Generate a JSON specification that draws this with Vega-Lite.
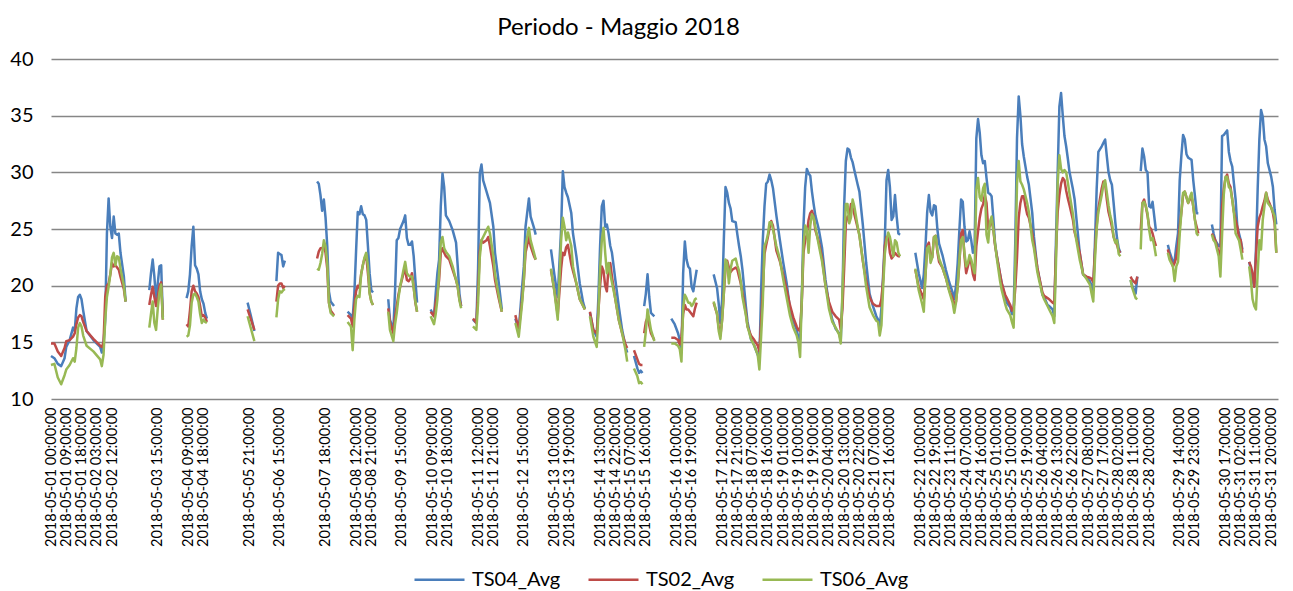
{
"$schema":"https://vega.github.io/schema/vega-lite/v6.json",
"width":1227,"height":340,
"autosize":{"type":"none"},
"padding":{"left":51,"top":59,"right":15,"bottom":192},
"background":"white",
"title":{"text":"Periodo - Maggio 2018","fontSize":24,"font":"Lato","fontWeight":"normal","color":"black","dx":-46,"offset":9},
"config":{"view":{"stroke":null},"font":"Lato"},
"data":{"values":[
{"r":0,"s":1,"TS04_Avg":13.8,"TS02_Avg":14.9,"TS06_Avg":13.0},
{"r":2,"s":1,"TS04_Avg":13.6,"TS02_Avg":14.9,"TS06_Avg":13.1},
{"r":4,"s":1,"TS04_Avg":13.1,"TS02_Avg":14.2,"TS06_Avg":11.9},
{"r":6,"s":1,"TS04_Avg":12.9,"TS02_Avg":13.8,"TS06_Avg":11.3},
{"r":8,"s":1,"TS04_Avg":13.6,"TS02_Avg":14.5,"TS06_Avg":12.1},
{"r":9,"s":1,"TS04_Avg":14.6,"TS02_Avg":15.1,"TS06_Avg":12.6},
{"r":11,"s":1,"TS04_Avg":15.2,"TS02_Avg":15.2,"TS06_Avg":13.0},
{"r":13,"s":1,"TS04_Avg":16.3,"TS02_Avg":15.5,"TS06_Avg":13.6},
{"r":14,"s":1,"TS04_Avg":16.0,"TS02_Avg":15.8,"TS06_Avg":13.3},
{"r":15,"s":1,"TS04_Avg":18.0,"TS02_Avg":16.6,"TS06_Avg":14.5},
{"r":16,"s":1,"TS04_Avg":19.0,"TS02_Avg":17.2,"TS06_Avg":16.3},
{"r":17,"s":1,"TS04_Avg":19.2,"TS02_Avg":17.4,"TS06_Avg":16.7},
{"r":18,"s":1,"TS04_Avg":18.8,"TS02_Avg":17.3,"TS06_Avg":16.4},
{"r":19,"s":1,"TS04_Avg":17.8,"TS02_Avg":16.8,"TS06_Avg":15.6},
{"r":21,"s":1,"TS04_Avg":16.0,"TS02_Avg":16.0,"TS06_Avg":14.7},
{"r":25,"s":1,"TS04_Avg":15.2,"TS02_Avg":15.3,"TS06_Avg":14.2},
{"r":29,"s":1,"TS04_Avg":14.6,"TS02_Avg":14.7,"TS06_Avg":13.5},
{"r":30,"s":1,"TS04_Avg":14.1,"TS02_Avg":14.6,"TS06_Avg":12.9},
{"r":31,"s":1,"TS04_Avg":14.9,"TS02_Avg":15.0,"TS06_Avg":13.9},
{"r":32,"s":1,"TS04_Avg":17.0,"TS02_Avg":19.0,"TS06_Avg":17.0},
{"r":33,"s":1,"TS04_Avg":24.6,"TS02_Avg":20.0,"TS06_Avg":19.0},
{"r":34,"s":1,"TS04_Avg":27.7,"TS02_Avg":20.2,"TS06_Avg":19.9},
{"r":35,"s":1,"TS04_Avg":25.2,"TS02_Avg":21.0,"TS06_Avg":21.0},
{"r":36,"s":1,"TS04_Avg":24.2,"TS02_Avg":22.0,"TS06_Avg":22.5},
{"r":37,"s":1,"TS04_Avg":26.1,"TS02_Avg":21.7,"TS06_Avg":22.9},
{"r":38,"s":1,"TS04_Avg":24.6,"TS02_Avg":21.8,"TS06_Avg":21.8},
{"r":39,"s":1,"TS04_Avg":24.5,"TS02_Avg":21.6,"TS06_Avg":22.6},
{"r":40,"s":1,"TS04_Avg":24.6,"TS02_Avg":21.4,"TS06_Avg":22.5},
{"r":41,"s":1,"TS04_Avg":22.9,"TS02_Avg":20.8,"TS06_Avg":21.5},
{"r":43,"s":1,"TS04_Avg":20.8,"TS02_Avg":19.7,"TS06_Avg":20.0},
{"r":44,"s":1,"TS04_Avg":18.6,"TS02_Avg":18.6,"TS06_Avg":18.6},
{"r":58,"s":2,"TS04_Avg":19.6,"TS02_Avg":18.3,"TS06_Avg":16.3},
{"r":59,"s":2,"TS04_Avg":21.1,"TS02_Avg":19.2,"TS06_Avg":17.5},
{"r":60,"s":2,"TS04_Avg":22.3,"TS02_Avg":19.9,"TS06_Avg":18.6},
{"r":61,"s":2,"TS04_Avg":20.8,"TS02_Avg":19.0,"TS06_Avg":16.7},
{"r":62,"s":2,"TS04_Avg":18.8,"TS02_Avg":18.2,"TS06_Avg":16.1},
{"r":63,"s":2,"TS04_Avg":20.2,"TS02_Avg":19.0,"TS06_Avg":18.0},
{"r":64,"s":2,"TS04_Avg":21.7,"TS02_Avg":20.0,"TS06_Avg":19.4},
{"r":65,"s":2,"TS04_Avg":21.8,"TS02_Avg":20.3,"TS06_Avg":20.1},
{"r":66,"s":2,"TS04_Avg":17.2,"TS02_Avg":17.0,"TS06_Avg":17.0},
{"r":80,"s":3,"TS04_Avg":18.9,"TS02_Avg":16.6,"TS06_Avg":15.5},
{"r":81,"s":3,"TS04_Avg":19.5,"TS02_Avg":16.4,"TS06_Avg":15.6},
{"r":82,"s":3,"TS04_Avg":21.0,"TS02_Avg":17.8,"TS06_Avg":16.5},
{"r":83,"s":3,"TS04_Avg":23.5,"TS02_Avg":19.5,"TS06_Avg":18.5},
{"r":84,"s":3,"TS04_Avg":25.2,"TS02_Avg":20.0,"TS06_Avg":19.2},
{"r":85,"s":3,"TS04_Avg":21.8,"TS02_Avg":19.5,"TS06_Avg":19.3},
{"r":86,"s":3,"TS04_Avg":21.5,"TS02_Avg":19.3,"TS06_Avg":19.0},
{"r":87,"s":3,"TS04_Avg":21.0,"TS02_Avg":19.0,"TS06_Avg":18.6},
{"r":88,"s":3,"TS04_Avg":19.5,"TS02_Avg":18.2,"TS06_Avg":17.5},
{"r":89,"s":3,"TS04_Avg":18.8,"TS02_Avg":17.3,"TS06_Avg":16.7},
{"r":90,"s":3,"TS04_Avg":18.4,"TS02_Avg":17.4,"TS06_Avg":17.0},
{"r":91,"s":3,"TS04_Avg":17.6,"TS02_Avg":17.2,"TS06_Avg":16.8},
{"r":92,"s":3,"TS04_Avg":17.1,"TS02_Avg":16.8,"TS06_Avg":16.7},
{"r":116,"s":4,"TS04_Avg":18.5,"TS02_Avg":17.9,"TS06_Avg":17.3},
{"r":118,"s":4,"TS04_Avg":17.3,"TS02_Avg":17.0,"TS06_Avg":16.2},
{"r":120,"s":4,"TS04_Avg":16.0,"TS02_Avg":16.1,"TS06_Avg":15.1},
{"r":133,"s":5,"TS04_Avg":20.4,"TS02_Avg":18.6,"TS06_Avg":17.2},
{"r":134,"s":5,"TS04_Avg":22.9,"TS02_Avg":20.0,"TS06_Avg":18.8},
{"r":135,"s":5,"TS04_Avg":22.8,"TS02_Avg":20.2,"TS06_Avg":19.5},
{"r":136,"s":5,"TS04_Avg":22.7,"TS02_Avg":20.2,"TS06_Avg":19.4},
{"r":137,"s":5,"TS04_Avg":21.7,"TS02_Avg":19.8,"TS06_Avg":19.6},
{"r":138,"s":5,"TS04_Avg":22.2,"TS02_Avg":20.0,"TS06_Avg":19.7},
{"r":157,"s":6,"TS04_Avg":29.2,"TS02_Avg":22.4,"TS06_Avg":21.5},
{"r":158,"s":6,"TS04_Avg":29.0,"TS02_Avg":23.0,"TS06_Avg":21.4},
{"r":159,"s":6,"TS04_Avg":28.0,"TS02_Avg":23.3,"TS06_Avg":22.0},
{"r":160,"s":6,"TS04_Avg":26.6,"TS02_Avg":23.3,"TS06_Avg":22.8},
{"r":161,"s":6,"TS04_Avg":27.6,"TS02_Avg":23.5,"TS06_Avg":24.0},
{"r":162,"s":6,"TS04_Avg":26.0,"TS02_Avg":22.9,"TS06_Avg":23.5},
{"r":163,"s":6,"TS04_Avg":23.5,"TS02_Avg":21.5,"TS06_Avg":22.0},
{"r":164,"s":6,"TS04_Avg":19.5,"TS02_Avg":18.5,"TS06_Avg":18.5},
{"r":165,"s":6,"TS04_Avg":18.6,"TS02_Avg":17.8,"TS06_Avg":17.6},
{"r":167,"s":6,"TS04_Avg":18.2,"TS02_Avg":17.4,"TS06_Avg":17.3},
{"r":175,"s":7,"TS04_Avg":17.7,"TS02_Avg":17.4,"TS06_Avg":16.8},
{"r":177,"s":7,"TS04_Avg":17.4,"TS02_Avg":17.1,"TS06_Avg":16.4},
{"r":178,"s":7,"TS04_Avg":17.1,"TS02_Avg":16.4,"TS06_Avg":14.3},
{"r":179,"s":7,"TS04_Avg":19.3,"TS02_Avg":18.2,"TS06_Avg":17.0},
{"r":180,"s":7,"TS04_Avg":23.0,"TS02_Avg":19.5,"TS06_Avg":18.8},
{"r":181,"s":7,"TS04_Avg":26.5,"TS02_Avg":20.0,"TS06_Avg":19.1},
{"r":182,"s":7,"TS04_Avg":26.3,"TS02_Avg":19.8,"TS06_Avg":19.0},
{"r":183,"s":7,"TS04_Avg":27.0,"TS02_Avg":21.0,"TS06_Avg":21.0},
{"r":184,"s":7,"TS04_Avg":26.3,"TS02_Avg":21.8,"TS06_Avg":21.8},
{"r":185,"s":7,"TS04_Avg":26.2,"TS02_Avg":22.4,"TS06_Avg":22.5},
{"r":186,"s":7,"TS04_Avg":25.8,"TS02_Avg":22.7,"TS06_Avg":22.9},
{"r":187,"s":7,"TS04_Avg":23.5,"TS02_Avg":21.1,"TS06_Avg":21.7},
{"r":188,"s":7,"TS04_Avg":21.1,"TS02_Avg":19.4,"TS06_Avg":19.3},
{"r":189,"s":7,"TS04_Avg":19.6,"TS02_Avg":18.6,"TS06_Avg":18.6},
{"r":190,"s":7,"TS04_Avg":19.4,"TS02_Avg":18.3,"TS06_Avg":18.3},
{"r":199,"s":8,"TS04_Avg":18.8,"TS02_Avg":18.0,"TS06_Avg":17.7},
{"r":200,"s":8,"TS04_Avg":17.0,"TS02_Avg":16.8,"TS06_Avg":16.1},
{"r":202,"s":8,"TS04_Avg":16.1,"TS02_Avg":15.8,"TS06_Avg":15.1},
{"r":203,"s":8,"TS04_Avg":19.5,"TS02_Avg":17.2,"TS06_Avg":16.6},
{"r":204,"s":8,"TS04_Avg":24.0,"TS02_Avg":18.2,"TS06_Avg":17.6},
{"r":205,"s":8,"TS04_Avg":24.2,"TS02_Avg":19.2,"TS06_Avg":18.9},
{"r":206,"s":8,"TS04_Avg":25.0,"TS02_Avg":19.9,"TS06_Avg":19.9},
{"r":208,"s":8,"TS04_Avg":25.7,"TS02_Avg":21.1,"TS06_Avg":21.4},
{"r":209,"s":8,"TS04_Avg":26.2,"TS02_Avg":21.4,"TS06_Avg":22.1},
{"r":210,"s":8,"TS04_Avg":24.2,"TS02_Avg":20.5,"TS06_Avg":21.1},
{"r":211,"s":8,"TS04_Avg":23.6,"TS02_Avg":20.4,"TS06_Avg":20.9},
{"r":212,"s":8,"TS04_Avg":23.6,"TS02_Avg":20.6,"TS06_Avg":20.8},
{"r":213,"s":8,"TS04_Avg":23.9,"TS02_Avg":21.1,"TS06_Avg":20.8},
{"r":214,"s":8,"TS04_Avg":22.6,"TS02_Avg":19.9,"TS06_Avg":19.8},
{"r":215,"s":8,"TS04_Avg":20.5,"TS02_Avg":18.5,"TS06_Avg":18.6},
{"r":216,"s":8,"TS04_Avg":18.5,"TS02_Avg":17.7,"TS06_Avg":17.7},
{"r":224,"s":9,"TS04_Avg":17.9,"TS02_Avg":17.7,"TS06_Avg":17.3},
{"r":226,"s":9,"TS04_Avg":17.3,"TS02_Avg":17.3,"TS06_Avg":16.6},
{"r":227,"s":9,"TS04_Avg":19.3,"TS02_Avg":18.5,"TS06_Avg":17.5},
{"r":228,"s":9,"TS04_Avg":21.1,"TS02_Avg":19.3,"TS06_Avg":18.8},
{"r":229,"s":9,"TS04_Avg":22.3,"TS02_Avg":20.5,"TS06_Avg":21.1},
{"r":230,"s":9,"TS04_Avg":27.0,"TS02_Avg":22.9,"TS06_Avg":23.8},
{"r":231,"s":9,"TS04_Avg":29.9,"TS02_Avg":23.3,"TS06_Avg":24.3},
{"r":232,"s":9,"TS04_Avg":28.7,"TS02_Avg":22.9,"TS06_Avg":23.3},
{"r":233,"s":9,"TS04_Avg":26.2,"TS02_Avg":22.6,"TS06_Avg":23.0},
{"r":235,"s":9,"TS04_Avg":25.7,"TS02_Avg":22.3,"TS06_Avg":22.6},
{"r":237,"s":9,"TS04_Avg":24.9,"TS02_Avg":21.4,"TS06_Avg":21.7},
{"r":239,"s":9,"TS04_Avg":23.8,"TS02_Avg":20.5,"TS06_Avg":20.5},
{"r":240,"s":9,"TS04_Avg":21.7,"TS02_Avg":19.9,"TS06_Avg":19.9},
{"r":241,"s":9,"TS04_Avg":19.3,"TS02_Avg":18.8,"TS06_Avg":18.7},
{"r":242,"s":9,"TS04_Avg":18.2,"TS02_Avg":18.2,"TS06_Avg":18.0},
{"r":249,"s":10,"TS04_Avg":17.0,"TS02_Avg":17.1,"TS06_Avg":16.4},
{"r":251,"s":10,"TS04_Avg":16.7,"TS02_Avg":16.7,"TS06_Avg":16.1},
{"r":252,"s":10,"TS04_Avg":21.5,"TS02_Avg":19.5,"TS06_Avg":18.5},
{"r":253,"s":10,"TS04_Avg":29.9,"TS02_Avg":23.0,"TS06_Avg":22.5},
{"r":254,"s":10,"TS04_Avg":30.7,"TS02_Avg":24.0,"TS06_Avg":24.0},
{"r":255,"s":10,"TS04_Avg":29.3,"TS02_Avg":23.8,"TS06_Avg":24.3},
{"r":257,"s":10,"TS04_Avg":28.3,"TS02_Avg":24.0,"TS06_Avg":24.9},
{"r":258,"s":10,"TS04_Avg":27.8,"TS02_Avg":24.3,"TS06_Avg":25.2},
{"r":259,"s":10,"TS04_Avg":27.3,"TS02_Avg":23.5,"TS06_Avg":24.6},
{"r":261,"s":10,"TS04_Avg":25.2,"TS02_Avg":21.7,"TS06_Avg":22.6},
{"r":262,"s":10,"TS04_Avg":22.9,"TS02_Avg":20.5,"TS06_Avg":21.0},
{"r":264,"s":10,"TS04_Avg":20.5,"TS02_Avg":19.0,"TS06_Avg":19.3},
{"r":266,"s":10,"TS04_Avg":17.9,"TS02_Avg":17.7,"TS06_Avg":17.7},
{"r":274,"s":11,"TS04_Avg":17.1,"TS02_Avg":17.4,"TS06_Avg":16.7},
{"r":276,"s":11,"TS04_Avg":16.1,"TS02_Avg":16.1,"TS06_Avg":15.5},
{"r":278,"s":11,"TS04_Avg":19.9,"TS02_Avg":18.8,"TS06_Avg":18.5},
{"r":279,"s":11,"TS04_Avg":21.7,"TS02_Avg":20.5,"TS06_Avg":20.5},
{"r":280,"s":11,"TS04_Avg":25.2,"TS02_Avg":22.9,"TS06_Avg":23.5},
{"r":282,"s":11,"TS04_Avg":27.7,"TS02_Avg":24.3,"TS06_Avg":25.1},
{"r":283,"s":11,"TS04_Avg":26.1,"TS02_Avg":23.5,"TS06_Avg":24.0},
{"r":285,"s":11,"TS04_Avg":25.1,"TS02_Avg":22.6,"TS06_Avg":22.9},
{"r":286,"s":11,"TS04_Avg":24.5,"TS02_Avg":22.3,"TS06_Avg":22.3},
{"r":295,"s":12,"TS04_Avg":23.2,"TS02_Avg":21.4,"TS06_Avg":21.5},
{"r":297,"s":12,"TS04_Avg":21.0,"TS02_Avg":19.6,"TS06_Avg":19.5},
{"r":299,"s":12,"TS04_Avg":19.0,"TS02_Avg":17.4,"TS06_Avg":17.0},
{"r":301,"s":12,"TS04_Avg":25.0,"TS02_Avg":21.5,"TS06_Avg":24.0},
{"r":302,"s":12,"TS04_Avg":30.1,"TS02_Avg":22.9,"TS06_Avg":26.0},
{"r":303,"s":12,"TS04_Avg":28.7,"TS02_Avg":22.7,"TS06_Avg":25.2},
{"r":304,"s":12,"TS04_Avg":28.2,"TS02_Avg":23.4,"TS06_Avg":24.0},
{"r":305,"s":12,"TS04_Avg":27.8,"TS02_Avg":23.6,"TS06_Avg":24.7},
{"r":307,"s":12,"TS04_Avg":26.4,"TS02_Avg":21.9,"TS06_Avg":23.5},
{"r":308,"s":12,"TS04_Avg":24.6,"TS02_Avg":21.3,"TS06_Avg":21.7},
{"r":310,"s":12,"TS04_Avg":22.6,"TS02_Avg":20.2,"TS06_Avg":20.2},
{"r":312,"s":12,"TS04_Avg":20.2,"TS02_Avg":18.8,"TS06_Avg":18.8},
{"r":314,"s":12,"TS04_Avg":18.5,"TS02_Avg":18.2,"TS06_Avg":18.2},
{"r":315,"s":12,"TS04_Avg":18.0,"TS02_Avg":17.9,"TS06_Avg":17.9},
{"r":318,"s":13,"TS04_Avg":17.6,"TS02_Avg":17.7,"TS06_Avg":17.3},
{"r":320,"s":13,"TS04_Avg":16.1,"TS02_Avg":16.1,"TS06_Avg":15.5},
{"r":322,"s":13,"TS04_Avg":15.5,"TS02_Avg":15.8,"TS06_Avg":14.6},
{"r":323,"s":13,"TS04_Avg":19.0,"TS02_Avg":17.8,"TS06_Avg":17.5},
{"r":324,"s":13,"TS04_Avg":23.5,"TS02_Avg":20.0,"TS06_Avg":21.5},
{"r":325,"s":13,"TS04_Avg":27.0,"TS02_Avg":21.7,"TS06_Avg":24.0},
{"r":326,"s":13,"TS04_Avg":27.5,"TS02_Avg":21.3,"TS06_Avg":25.1},
{"r":327,"s":13,"TS04_Avg":25.2,"TS02_Avg":20.0,"TS06_Avg":22.9},
{"r":328,"s":13,"TS04_Avg":25.4,"TS02_Avg":19.5,"TS06_Avg":21.1},
{"r":329,"s":13,"TS04_Avg":24.6,"TS02_Avg":21.7,"TS06_Avg":22.0},
{"r":330,"s":13,"TS04_Avg":23.5,"TS02_Avg":22.0,"TS06_Avg":21.0},
{"r":331,"s":13,"TS04_Avg":22.9,"TS02_Avg":20.8,"TS06_Avg":20.3},
{"r":333,"s":13,"TS04_Avg":20.5,"TS02_Avg":18.8,"TS06_Avg":18.8},
{"r":335,"s":13,"TS04_Avg":18.2,"TS02_Avg":17.0,"TS06_Avg":17.0},
{"r":337,"s":13,"TS04_Avg":16.1,"TS02_Avg":15.8,"TS06_Avg":15.8},
{"r":339,"s":13,"TS04_Avg":14.6,"TS02_Avg":14.8,"TS06_Avg":14.3},
{"r":340,"s":13,"TS04_Avg":14.1,"TS02_Avg":14.5,"TS06_Avg":13.3},
{"r":344,"s":14,"TS04_Avg":13.8,"TS02_Avg":14.3,"TS06_Avg":12.7},
{"r":346,"s":14,"TS04_Avg":12.7,"TS02_Avg":13.5,"TS06_Avg":12.0},
{"r":347,"s":14,"TS04_Avg":12.3,"TS02_Avg":13.1,"TS06_Avg":11.4},
{"r":348,"s":14,"TS04_Avg":12.5,"TS02_Avg":13.0,"TS06_Avg":11.5},
{"r":349,"s":14,"TS04_Avg":12.3,"TS02_Avg":13.0,"TS06_Avg":11.3},
{"r":350,"s":15,"TS04_Avg":18.2,"TS02_Avg":15.8,"TS06_Avg":14.6},
{"r":351,"s":15,"TS04_Avg":19.3,"TS02_Avg":16.8,"TS06_Avg":16.0},
{"r":352,"s":15,"TS04_Avg":21.0,"TS02_Avg":17.2,"TS06_Avg":17.9},
{"r":353,"s":15,"TS04_Avg":19.0,"TS02_Avg":16.5,"TS06_Avg":17.0},
{"r":354,"s":15,"TS04_Avg":17.6,"TS02_Avg":15.8,"TS06_Avg":16.1},
{"r":356,"s":15,"TS04_Avg":17.3,"TS02_Avg":15.2,"TS06_Avg":15.1},
{"r":366,"s":16,"TS04_Avg":17.1,"TS02_Avg":15.4,"TS06_Avg":14.9},
{"r":368,"s":16,"TS04_Avg":16.6,"TS02_Avg":15.4,"TS06_Avg":14.9},
{"r":370,"s":16,"TS04_Avg":15.8,"TS02_Avg":15.2,"TS06_Avg":14.7},
{"r":371,"s":16,"TS04_Avg":15.2,"TS02_Avg":14.8,"TS06_Avg":14.4},
{"r":372,"s":16,"TS04_Avg":14.1,"TS02_Avg":15.5,"TS06_Avg":13.3},
{"r":373,"s":16,"TS04_Avg":21.1,"TS02_Avg":17.5,"TS06_Avg":18.0},
{"r":374,"s":16,"TS04_Avg":23.9,"TS02_Avg":18.3,"TS06_Avg":19.2},
{"r":375,"s":16,"TS04_Avg":22.3,"TS02_Avg":17.9,"TS06_Avg":18.9},
{"r":376,"s":16,"TS04_Avg":21.7,"TS02_Avg":17.9,"TS06_Avg":18.5},
{"r":377,"s":16,"TS04_Avg":21.5,"TS02_Avg":17.7,"TS06_Avg":18.5},
{"r":378,"s":16,"TS04_Avg":19.9,"TS02_Avg":17.5,"TS06_Avg":18.2},
{"r":379,"s":16,"TS04_Avg":19.5,"TS02_Avg":17.3,"TS06_Avg":18.4},
{"r":380,"s":16,"TS04_Avg":20.5,"TS02_Avg":18.0,"TS06_Avg":18.8},
{"r":381,"s":16,"TS04_Avg":21.4,"TS02_Avg":18.5,"TS06_Avg":18.9},
{"r":391,"s":17,"TS04_Avg":21.0,"TS02_Avg":18.5,"TS06_Avg":18.6},
{"r":393,"s":17,"TS04_Avg":19.8,"TS02_Avg":17.5,"TS06_Avg":17.5},
{"r":394,"s":17,"TS04_Avg":18.4,"TS02_Avg":16.3,"TS06_Avg":16.0},
{"r":395,"s":17,"TS04_Avg":16.7,"TS02_Avg":15.6,"TS06_Avg":15.3},
{"r":396,"s":17,"TS04_Avg":18.8,"TS02_Avg":17.0,"TS06_Avg":17.0},
{"r":397,"s":17,"TS04_Avg":24.0,"TS02_Avg":19.3,"TS06_Avg":19.3},
{"r":398,"s":17,"TS04_Avg":28.7,"TS02_Avg":21.5,"TS06_Avg":22.3},
{"r":399,"s":17,"TS04_Avg":28.2,"TS02_Avg":22.2,"TS06_Avg":22.0},
{"r":400,"s":17,"TS04_Avg":27.3,"TS02_Avg":21.6,"TS06_Avg":20.2},
{"r":401,"s":17,"TS04_Avg":26.8,"TS02_Avg":21.2,"TS06_Avg":21.5},
{"r":402,"s":17,"TS04_Avg":25.7,"TS02_Avg":21.4,"TS06_Avg":22.2},
{"r":404,"s":17,"TS04_Avg":25.6,"TS02_Avg":21.6,"TS06_Avg":22.4},
{"r":405,"s":17,"TS04_Avg":24.5,"TS02_Avg":21.4,"TS06_Avg":21.8},
{"r":406,"s":17,"TS04_Avg":23.5,"TS02_Avg":20.8,"TS06_Avg":21.3},
{"r":407,"s":17,"TS04_Avg":22.6,"TS02_Avg":20.2,"TS06_Avg":20.4},
{"r":408,"s":17,"TS04_Avg":21.4,"TS02_Avg":19.4,"TS06_Avg":19.0},
{"r":410,"s":17,"TS04_Avg":18.2,"TS02_Avg":17.6,"TS06_Avg":17.4},
{"r":411,"s":17,"TS04_Avg":16.8,"TS02_Avg":16.4,"TS06_Avg":16.4},
{"r":413,"s":17,"TS04_Avg":15.3,"TS02_Avg":15.6,"TS06_Avg":15.3},
{"r":415,"s":17,"TS04_Avg":14.7,"TS02_Avg":15.2,"TS06_Avg":14.7},
{"r":417,"s":17,"TS04_Avg":13.9,"TS02_Avg":14.7,"TS06_Avg":13.9},
{"r":418,"s":17,"TS04_Avg":13.5,"TS02_Avg":14.2,"TS06_Avg":12.6},
{"r":419,"s":17,"TS04_Avg":19.5,"TS02_Avg":16.8,"TS06_Avg":15.5},
{"r":420,"s":17,"TS04_Avg":24.0,"TS02_Avg":19.5,"TS06_Avg":18.5},
{"r":421,"s":17,"TS04_Avg":27.0,"TS02_Avg":22.8,"TS06_Avg":23.5},
{"r":422,"s":17,"TS04_Avg":29.0,"TS02_Avg":23.6,"TS06_Avg":23.9},
{"r":423,"s":17,"TS04_Avg":29.2,"TS02_Avg":24.3,"TS06_Avg":24.5},
{"r":424,"s":17,"TS04_Avg":29.8,"TS02_Avg":25.1,"TS06_Avg":25.6},
{"r":425,"s":17,"TS04_Avg":29.3,"TS02_Avg":25.7,"TS06_Avg":25.6},
{"r":426,"s":17,"TS04_Avg":28.6,"TS02_Avg":25.3,"TS06_Avg":25.0},
{"r":428,"s":17,"TS04_Avg":26.2,"TS02_Avg":23.1,"TS06_Avg":23.5},
{"r":430,"s":17,"TS04_Avg":24.1,"TS02_Avg":22.2,"TS06_Avg":22.4},
{"r":432,"s":17,"TS04_Avg":22.1,"TS02_Avg":21.0,"TS06_Avg":20.6},
{"r":434,"s":17,"TS04_Avg":20.3,"TS02_Avg":19.7,"TS06_Avg":19.0},
{"r":436,"s":17,"TS04_Avg":18.0,"TS02_Avg":18.3,"TS06_Avg":17.4},
{"r":438,"s":17,"TS04_Avg":16.9,"TS02_Avg":17.2,"TS06_Avg":16.3},
{"r":440,"s":17,"TS04_Avg":16.1,"TS02_Avg":16.4,"TS06_Avg":15.6},
{"r":441,"s":17,"TS04_Avg":15.4,"TS02_Avg":16.1,"TS06_Avg":15.0},
{"r":442,"s":17,"TS04_Avg":15.2,"TS02_Avg":16.0,"TS06_Avg":13.7},
{"r":443,"s":17,"TS04_Avg":18.8,"TS02_Avg":18.5,"TS06_Avg":18.8},
{"r":444,"s":17,"TS04_Avg":25.2,"TS02_Avg":22.9,"TS06_Avg":23.5},
{"r":445,"s":17,"TS04_Avg":28.7,"TS02_Avg":24.0,"TS06_Avg":25.3},
{"r":446,"s":17,"TS04_Avg":30.3,"TS02_Avg":24.5,"TS06_Avg":25.0},
{"r":447,"s":17,"TS04_Avg":29.9,"TS02_Avg":25.8,"TS06_Avg":22.9},
{"r":448,"s":17,"TS04_Avg":29.7,"TS02_Avg":26.4,"TS06_Avg":25.3},
{"r":449,"s":17,"TS04_Avg":28.3,"TS02_Avg":26.6,"TS06_Avg":26.3},
{"r":450,"s":17,"TS04_Avg":27.2,"TS02_Avg":26.1,"TS06_Avg":26.0},
{"r":451,"s":17,"TS04_Avg":26.2,"TS02_Avg":24.9,"TS06_Avg":25.2},
{"r":453,"s":17,"TS04_Avg":25.0,"TS02_Avg":23.9,"TS06_Avg":23.6},
{"r":455,"s":17,"TS04_Avg":23.3,"TS02_Avg":22.4,"TS06_Avg":22.1},
{"r":457,"s":17,"TS04_Avg":20.5,"TS02_Avg":20.0,"TS06_Avg":20.0},
{"r":459,"s":17,"TS04_Avg":18.4,"TS02_Avg":18.6,"TS06_Avg":18.0},
{"r":461,"s":17,"TS04_Avg":17.0,"TS02_Avg":17.7,"TS06_Avg":16.8},
{"r":463,"s":17,"TS04_Avg":16.2,"TS02_Avg":17.3,"TS06_Avg":16.3},
{"r":465,"s":17,"TS04_Avg":15.8,"TS02_Avg":17.0,"TS06_Avg":15.7},
{"r":466,"s":17,"TS04_Avg":15.2,"TS02_Avg":16.1,"TS06_Avg":14.9},
{"r":467,"s":17,"TS04_Avg":19.0,"TS02_Avg":18.0,"TS06_Avg":19.5},
{"r":468,"s":17,"TS04_Avg":27.0,"TS02_Avg":21.5,"TS06_Avg":23.5},
{"r":469,"s":17,"TS04_Avg":31.0,"TS02_Avg":25.5,"TS06_Avg":27.2},
{"r":470,"s":17,"TS04_Avg":32.1,"TS02_Avg":26.1,"TS06_Avg":27.2},
{"r":471,"s":17,"TS04_Avg":32.0,"TS02_Avg":26.0,"TS06_Avg":25.5},
{"r":472,"s":17,"TS04_Avg":31.3,"TS02_Avg":27.2,"TS06_Avg":26.0},
{"r":473,"s":17,"TS04_Avg":30.9,"TS02_Avg":27.2,"TS06_Avg":27.6},
{"r":474,"s":17,"TS04_Avg":30.2,"TS02_Avg":26.3,"TS06_Avg":27.0},
{"r":476,"s":17,"TS04_Avg":28.9,"TS02_Avg":25.1,"TS06_Avg":25.2},
{"r":477,"s":17,"TS04_Avg":28.3,"TS02_Avg":24.5,"TS06_Avg":24.4},
{"r":479,"s":17,"TS04_Avg":25.4,"TS02_Avg":22.2,"TS06_Avg":22.3},
{"r":481,"s":17,"TS04_Avg":22.0,"TS02_Avg":20.4,"TS06_Avg":19.9},
{"r":483,"s":17,"TS04_Avg":19.3,"TS02_Avg":19.0,"TS06_Avg":18.1},
{"r":485,"s":17,"TS04_Avg":18.2,"TS02_Avg":18.4,"TS06_Avg":17.4},
{"r":487,"s":17,"TS04_Avg":17.3,"TS02_Avg":18.2,"TS06_Avg":16.9},
{"r":488,"s":17,"TS04_Avg":17.0,"TS02_Avg":18.2,"TS06_Avg":16.8},
{"r":489,"s":17,"TS04_Avg":16.3,"TS02_Avg":18.2,"TS06_Avg":15.6},
{"r":490,"s":17,"TS04_Avg":18.0,"TS02_Avg":18.8,"TS06_Avg":16.5},
{"r":491,"s":17,"TS04_Avg":21.0,"TS02_Avg":20.5,"TS06_Avg":19.8},
{"r":492,"s":17,"TS04_Avg":24.0,"TS02_Avg":23.5,"TS06_Avg":22.8},
{"r":493,"s":17,"TS04_Avg":29.3,"TS02_Avg":24.3,"TS06_Avg":24.0},
{"r":494,"s":17,"TS04_Avg":30.2,"TS02_Avg":24.3,"TS06_Avg":24.7},
{"r":495,"s":17,"TS04_Avg":28.7,"TS02_Avg":22.9,"TS06_Avg":24.3},
{"r":496,"s":17,"TS04_Avg":25.8,"TS02_Avg":22.4,"TS06_Avg":23.5},
{"r":497,"s":17,"TS04_Avg":26.1,"TS02_Avg":22.6,"TS06_Avg":22.6},
{"r":498,"s":17,"TS04_Avg":28.0,"TS02_Avg":22.9,"TS06_Avg":24.0},
{"r":499,"s":17,"TS04_Avg":26.1,"TS02_Avg":22.7,"TS06_Avg":23.8},
{"r":500,"s":17,"TS04_Avg":24.6,"TS02_Avg":22.6,"TS06_Avg":22.9},
{"r":501,"s":17,"TS04_Avg":24.5,"TS02_Avg":22.6,"TS06_Avg":22.6},
{"r":510,"s":18,"TS04_Avg":22.9,"TS02_Avg":21.4,"TS06_Avg":21.5},
{"r":512,"s":18,"TS04_Avg":21.1,"TS02_Avg":19.9,"TS06_Avg":19.6},
{"r":514,"s":18,"TS04_Avg":19.8,"TS02_Avg":19.2,"TS06_Avg":18.4},
{"r":515,"s":18,"TS04_Avg":21.0,"TS02_Avg":18.8,"TS06_Avg":17.7},
{"r":516,"s":18,"TS04_Avg":23.5,"TS02_Avg":21.0,"TS06_Avg":21.0},
{"r":517,"s":18,"TS04_Avg":26.5,"TS02_Avg":23.5,"TS06_Avg":23.3},
{"r":518,"s":18,"TS04_Avg":28.0,"TS02_Avg":23.8,"TS06_Avg":23.5},
{"r":519,"s":18,"TS04_Avg":26.5,"TS02_Avg":22.5,"TS06_Avg":22.0},
{"r":520,"s":18,"TS04_Avg":26.2,"TS02_Avg":22.5,"TS06_Avg":22.5},
{"r":521,"s":18,"TS04_Avg":27.1,"TS02_Avg":24.3,"TS06_Avg":24.3},
{"r":522,"s":18,"TS04_Avg":27.0,"TS02_Avg":24.4,"TS06_Avg":24.4},
{"r":523,"s":18,"TS04_Avg":25.0,"TS02_Avg":23.0,"TS06_Avg":23.2},
{"r":524,"s":18,"TS04_Avg":23.7,"TS02_Avg":22.1,"TS06_Avg":22.4},
{"r":526,"s":18,"TS04_Avg":22.7,"TS02_Avg":21.6,"TS06_Avg":21.6},
{"r":528,"s":18,"TS04_Avg":21.4,"TS02_Avg":20.7,"TS06_Avg":20.7},
{"r":530,"s":18,"TS04_Avg":20.3,"TS02_Avg":19.6,"TS06_Avg":19.5},
{"r":532,"s":18,"TS04_Avg":19.4,"TS02_Avg":18.9,"TS06_Avg":18.5},
{"r":533,"s":18,"TS04_Avg":18.8,"TS02_Avg":18.2,"TS06_Avg":17.6},
{"r":534,"s":18,"TS04_Avg":20.0,"TS02_Avg":18.6,"TS06_Avg":18.5},
{"r":535,"s":18,"TS04_Avg":22.0,"TS02_Avg":20.0,"TS06_Avg":20.0},
{"r":536,"s":18,"TS04_Avg":24.9,"TS02_Avg":22.0,"TS06_Avg":22.3},
{"r":537,"s":18,"TS04_Avg":27.6,"TS02_Avg":24.6,"TS06_Avg":24.0},
{"r":538,"s":18,"TS04_Avg":27.4,"TS02_Avg":24.9,"TS06_Avg":24.3},
{"r":539,"s":18,"TS04_Avg":25.2,"TS02_Avg":22.6,"TS06_Avg":22.9},
{"r":540,"s":18,"TS04_Avg":23.9,"TS02_Avg":21.1,"TS06_Avg":21.7},
{"r":541,"s":18,"TS04_Avg":24.0,"TS02_Avg":21.7,"TS06_Avg":22.0},
{"r":542,"s":18,"TS04_Avg":24.8,"TS02_Avg":22.3,"TS06_Avg":22.7},
{"r":543,"s":18,"TS04_Avg":24.0,"TS02_Avg":22.0,"TS06_Avg":22.3},
{"r":544,"s":18,"TS04_Avg":22.9,"TS02_Avg":21.0,"TS06_Avg":21.6},
{"r":545,"s":18,"TS04_Avg":23.5,"TS02_Avg":20.5,"TS06_Avg":21.1},
{"r":546,"s":18,"TS04_Avg":33.0,"TS02_Avg":23.5,"TS06_Avg":28.5},
{"r":547,"s":18,"TS04_Avg":34.7,"TS02_Avg":24.8,"TS06_Avg":29.5},
{"r":548,"s":18,"TS04_Avg":33.5,"TS02_Avg":26.0,"TS06_Avg":27.8},
{"r":549,"s":18,"TS04_Avg":31.5,"TS02_Avg":26.8,"TS06_Avg":27.5},
{"r":550,"s":18,"TS04_Avg":30.8,"TS02_Avg":27.2,"TS06_Avg":28.6},
{"r":551,"s":18,"TS04_Avg":31.0,"TS02_Avg":28.0,"TS06_Avg":29.0},
{"r":552,"s":18,"TS04_Avg":29.5,"TS02_Avg":27.3,"TS06_Avg":24.5},
{"r":553,"s":18,"TS04_Avg":28.2,"TS02_Avg":25.0,"TS06_Avg":23.8},
{"r":554,"s":18,"TS04_Avg":28.1,"TS02_Avg":25.3,"TS06_Avg":25.6},
{"r":555,"s":18,"TS04_Avg":27.9,"TS02_Avg":25.9,"TS06_Avg":26.1},
{"r":556,"s":18,"TS04_Avg":26.0,"TS02_Avg":25.0,"TS06_Avg":25.0},
{"r":557,"s":18,"TS04_Avg":23.8,"TS02_Avg":23.6,"TS06_Avg":23.8},
{"r":558,"s":18,"TS04_Avg":22.7,"TS02_Avg":22.7,"TS06_Avg":22.5},
{"r":560,"s":18,"TS04_Avg":21.0,"TS02_Avg":21.0,"TS06_Avg":20.4},
{"r":561,"s":18,"TS04_Avg":20.2,"TS02_Avg":20.2,"TS06_Avg":19.6},
{"r":563,"s":18,"TS04_Avg":19.0,"TS02_Avg":19.2,"TS06_Avg":18.4},
{"r":564,"s":18,"TS04_Avg":18.5,"TS02_Avg":18.9,"TS06_Avg":17.9},
{"r":566,"s":18,"TS04_Avg":18.1,"TS02_Avg":18.3,"TS06_Avg":17.4},
{"r":567,"s":18,"TS04_Avg":17.5,"TS02_Avg":17.8,"TS06_Avg":16.8},
{"r":568,"s":18,"TS04_Avg":17.5,"TS02_Avg":18.0,"TS06_Avg":16.3},
{"r":569,"s":18,"TS04_Avg":24.0,"TS02_Avg":19.8,"TS06_Avg":22.0},
{"r":570,"s":18,"TS04_Avg":33.0,"TS02_Avg":22.5,"TS06_Avg":29.0},
{"r":571,"s":18,"TS04_Avg":36.7,"TS02_Avg":26.0,"TS06_Avg":31.0},
{"r":572,"s":18,"TS04_Avg":35.0,"TS02_Avg":27.3,"TS06_Avg":29.2},
{"r":573,"s":18,"TS04_Avg":32.5,"TS02_Avg":27.9,"TS06_Avg":28.9},
{"r":574,"s":18,"TS04_Avg":31.4,"TS02_Avg":27.9,"TS06_Avg":28.5},
{"r":575,"s":18,"TS04_Avg":30.5,"TS02_Avg":27.0,"TS06_Avg":27.9},
{"r":576,"s":18,"TS04_Avg":29.6,"TS02_Avg":26.3,"TS06_Avg":27.3},
{"r":577,"s":18,"TS04_Avg":28.9,"TS02_Avg":26.0,"TS06_Avg":26.5},
{"r":579,"s":18,"TS04_Avg":26.4,"TS02_Avg":24.6,"TS06_Avg":24.0},
{"r":580,"s":18,"TS04_Avg":24.3,"TS02_Avg":23.6,"TS06_Avg":23.3},
{"r":582,"s":18,"TS04_Avg":21.5,"TS02_Avg":21.6,"TS06_Avg":21.2},
{"r":583,"s":18,"TS04_Avg":20.8,"TS02_Avg":20.8,"TS06_Avg":20.5},
{"r":585,"s":18,"TS04_Avg":19.2,"TS02_Avg":19.4,"TS06_Avg":19.2},
{"r":586,"s":18,"TS04_Avg":19.0,"TS02_Avg":19.1,"TS06_Avg":18.8},
{"r":588,"s":18,"TS04_Avg":18.3,"TS02_Avg":18.9,"TS06_Avg":18.2},
{"r":589,"s":18,"TS04_Avg":18.2,"TS02_Avg":18.8,"TS06_Avg":17.9},
{"r":591,"s":18,"TS04_Avg":17.9,"TS02_Avg":18.5,"TS06_Avg":17.3},
{"r":592,"s":18,"TS04_Avg":17.3,"TS02_Avg":18.4,"TS06_Avg":16.7},
{"r":593,"s":18,"TS04_Avg":24.0,"TS02_Avg":23.0,"TS06_Avg":22.0},
{"r":594,"s":18,"TS04_Avg":30.0,"TS02_Avg":26.5,"TS06_Avg":29.0},
{"r":595,"s":18,"TS04_Avg":35.8,"TS02_Avg":28.0,"TS06_Avg":31.5},
{"r":596,"s":18,"TS04_Avg":37.0,"TS02_Avg":29.0,"TS06_Avg":30.3},
{"r":597,"s":18,"TS04_Avg":35.0,"TS02_Avg":29.5,"TS06_Avg":30.0},
{"r":598,"s":18,"TS04_Avg":33.2,"TS02_Avg":29.3,"TS06_Avg":30.2},
{"r":599,"s":18,"TS04_Avg":32.3,"TS02_Avg":28.4,"TS06_Avg":30.0},
{"r":600,"s":18,"TS04_Avg":31.2,"TS02_Avg":27.7,"TS06_Avg":29.1},
{"r":601,"s":18,"TS04_Avg":30.0,"TS02_Avg":27.1,"TS06_Avg":28.1},
{"r":603,"s":18,"TS04_Avg":28.5,"TS02_Avg":25.8,"TS06_Avg":26.3},
{"r":604,"s":18,"TS04_Avg":27.6,"TS02_Avg":24.7,"TS06_Avg":25.0},
{"r":605,"s":18,"TS04_Avg":26.0,"TS02_Avg":24.2,"TS06_Avg":24.0},
{"r":607,"s":18,"TS04_Avg":22.9,"TS02_Avg":22.9,"TS06_Avg":22.3},
{"r":609,"s":18,"TS04_Avg":21.0,"TS02_Avg":21.0,"TS06_Avg":21.0},
{"r":611,"s":18,"TS04_Avg":20.7,"TS02_Avg":20.8,"TS06_Avg":20.6},
{"r":613,"s":18,"TS04_Avg":20.4,"TS02_Avg":20.7,"TS06_Avg":20.1},
{"r":614,"s":18,"TS04_Avg":20.0,"TS02_Avg":20.6,"TS06_Avg":19.3},
{"r":615,"s":18,"TS04_Avg":19.6,"TS02_Avg":20.3,"TS06_Avg":18.6},
{"r":616,"s":18,"TS04_Avg":23.8,"TS02_Avg":23.0,"TS06_Avg":22.3},
{"r":617,"s":18,"TS04_Avg":28.5,"TS02_Avg":25.3,"TS06_Avg":25.0},
{"r":618,"s":18,"TS04_Avg":31.8,"TS02_Avg":26.8,"TS06_Avg":26.5},
{"r":620,"s":18,"TS04_Avg":32.3,"TS02_Avg":28.6,"TS06_Avg":28.0},
{"r":621,"s":18,"TS04_Avg":32.6,"TS02_Avg":29.2,"TS06_Avg":28.9},
{"r":622,"s":18,"TS04_Avg":32.9,"TS02_Avg":29.0,"TS06_Avg":29.3},
{"r":623,"s":18,"TS04_Avg":31.4,"TS02_Avg":27.6,"TS06_Avg":28.2},
{"r":624,"s":18,"TS04_Avg":30.0,"TS02_Avg":26.5,"TS06_Avg":27.1},
{"r":625,"s":18,"TS04_Avg":29.3,"TS02_Avg":25.9,"TS06_Avg":26.2},
{"r":626,"s":18,"TS04_Avg":28.9,"TS02_Avg":25.2,"TS06_Avg":25.6},
{"r":627,"s":18,"TS04_Avg":27.3,"TS02_Avg":24.3,"TS06_Avg":24.3},
{"r":628,"s":18,"TS04_Avg":25.6,"TS02_Avg":23.9,"TS06_Avg":23.8},
{"r":629,"s":18,"TS04_Avg":24.2,"TS02_Avg":23.6,"TS06_Avg":24.0},
{"r":630,"s":18,"TS04_Avg":23.3,"TS02_Avg":23.1,"TS06_Avg":22.8},
{"r":631,"s":18,"TS04_Avg":22.9,"TS02_Avg":22.9,"TS06_Avg":22.6},
{"r":637,"s":19,"TS04_Avg":20.5,"TS02_Avg":20.8,"TS06_Avg":20.5},
{"r":638,"s":19,"TS04_Avg":20.0,"TS02_Avg":20.5,"TS06_Avg":19.8},
{"r":640,"s":19,"TS04_Avg":19.3,"TS02_Avg":20.2,"TS06_Avg":18.9},
{"r":641,"s":19,"TS04_Avg":20.8,"TS02_Avg":20.8,"TS06_Avg":18.8},
{"r":643,"s":20,"TS04_Avg":30.1,"TS02_Avg":24.9,"TS06_Avg":23.2},
{"r":644,"s":20,"TS04_Avg":32.1,"TS02_Avg":27.3,"TS06_Avg":27.3},
{"r":645,"s":20,"TS04_Avg":31.4,"TS02_Avg":27.6,"TS06_Avg":27.4},
{"r":646,"s":20,"TS04_Avg":30.2,"TS02_Avg":27.0,"TS06_Avg":27.0},
{"r":647,"s":20,"TS04_Avg":30.0,"TS02_Avg":26.2,"TS06_Avg":26.4},
{"r":648,"s":20,"TS04_Avg":27.0,"TS02_Avg":25.2,"TS06_Avg":24.9},
{"r":649,"s":20,"TS04_Avg":26.9,"TS02_Avg":25.0,"TS06_Avg":24.0},
{"r":650,"s":20,"TS04_Avg":27.4,"TS02_Avg":24.6,"TS06_Avg":24.2},
{"r":651,"s":20,"TS04_Avg":26.1,"TS02_Avg":24.0,"TS06_Avg":23.5},
{"r":652,"s":20,"TS04_Avg":24.8,"TS02_Avg":23.5,"TS06_Avg":22.6},
{"r":659,"s":21,"TS04_Avg":23.6,"TS02_Avg":23.2,"TS06_Avg":22.9},
{"r":660,"s":21,"TS04_Avg":23.0,"TS02_Avg":22.6,"TS06_Avg":22.3},
{"r":662,"s":21,"TS04_Avg":22.1,"TS02_Avg":21.7,"TS06_Avg":21.7},
{"r":663,"s":21,"TS04_Avg":22.2,"TS02_Avg":22.0,"TS06_Avg":20.4},
{"r":664,"s":21,"TS04_Avg":23.5,"TS02_Avg":22.5,"TS06_Avg":21.7},
{"r":665,"s":21,"TS04_Avg":24.6,"TS02_Avg":23.5,"TS06_Avg":22.1},
{"r":666,"s":21,"TS04_Avg":29.3,"TS02_Avg":25.2,"TS06_Avg":24.5},
{"r":667,"s":21,"TS04_Avg":31.5,"TS02_Avg":26.5,"TS06_Avg":26.5},
{"r":668,"s":21,"TS04_Avg":33.3,"TS02_Avg":28.0,"TS06_Avg":28.2},
{"r":669,"s":21,"TS04_Avg":32.9,"TS02_Avg":28.3,"TS06_Avg":28.3},
{"r":670,"s":21,"TS04_Avg":31.6,"TS02_Avg":27.8,"TS06_Avg":27.8},
{"r":671,"s":21,"TS04_Avg":31.3,"TS02_Avg":27.3,"TS06_Avg":27.3},
{"r":672,"s":21,"TS04_Avg":31.2,"TS02_Avg":27.6,"TS06_Avg":27.8},
{"r":673,"s":21,"TS04_Avg":31.1,"TS02_Avg":27.9,"TS06_Avg":28.2},
{"r":674,"s":21,"TS04_Avg":29.3,"TS02_Avg":27.0,"TS06_Avg":27.0},
{"r":675,"s":21,"TS04_Avg":27.9,"TS02_Avg":25.8,"TS06_Avg":25.8},
{"r":676,"s":21,"TS04_Avg":26.4,"TS02_Avg":25.2,"TS06_Avg":24.6},
{"r":677,"s":21,"TS04_Avg":26.4,"TS02_Avg":24.6,"TS06_Avg":24.4},
{"r":685,"s":22,"TS04_Avg":25.4,"TS02_Avg":24.6,"TS06_Avg":24.5},
{"r":686,"s":22,"TS04_Avg":24.6,"TS02_Avg":24.3,"TS06_Avg":24.0},
{"r":687,"s":22,"TS04_Avg":24.0,"TS02_Avg":24.0,"TS06_Avg":23.8},
{"r":689,"s":22,"TS04_Avg":23.5,"TS02_Avg":22.9,"TS06_Avg":22.6},
{"r":690,"s":22,"TS04_Avg":23.5,"TS02_Avg":22.6,"TS06_Avg":20.8},
{"r":691,"s":22,"TS04_Avg":33.2,"TS02_Avg":27.0,"TS06_Avg":24.5},
{"r":692,"s":22,"TS04_Avg":33.3,"TS02_Avg":28.5,"TS06_Avg":28.0},
{"r":693,"s":22,"TS04_Avg":33.5,"TS02_Avg":29.5,"TS06_Avg":29.6},
{"r":694,"s":22,"TS04_Avg":33.7,"TS02_Avg":29.8,"TS06_Avg":29.6},
{"r":695,"s":22,"TS04_Avg":31.8,"TS02_Avg":29.0,"TS06_Avg":28.7},
{"r":696,"s":22,"TS04_Avg":31.0,"TS02_Avg":28.7,"TS06_Avg":28.5},
{"r":697,"s":22,"TS04_Avg":30.5,"TS02_Avg":27.6,"TS06_Avg":27.6},
{"r":698,"s":22,"TS04_Avg":29.0,"TS02_Avg":26.5,"TS06_Avg":26.4},
{"r":699,"s":22,"TS04_Avg":27.6,"TS02_Avg":25.8,"TS06_Avg":24.6},
{"r":700,"s":22,"TS04_Avg":25.2,"TS02_Avg":25.2,"TS06_Avg":24.3},
{"r":701,"s":22,"TS04_Avg":24.6,"TS02_Avg":24.2,"TS06_Avg":24.0},
{"r":702,"s":22,"TS04_Avg":24.0,"TS02_Avg":24.0,"TS06_Avg":23.2},
{"r":703,"s":22,"TS04_Avg":23.2,"TS02_Avg":22.9,"TS06_Avg":22.3},
{"r":707,"s":23,"TS04_Avg":22.1,"TS02_Avg":22.1,"TS06_Avg":21.7},
{"r":708,"s":23,"TS04_Avg":21.4,"TS02_Avg":21.7,"TS06_Avg":20.5},
{"r":709,"s":23,"TS04_Avg":20.5,"TS02_Avg":21.1,"TS06_Avg":18.8},
{"r":710,"s":23,"TS04_Avg":19.9,"TS02_Avg":19.9,"TS06_Avg":18.2},
{"r":711,"s":23,"TS04_Avg":23.2,"TS02_Avg":22.6,"TS06_Avg":17.9},
{"r":712,"s":23,"TS04_Avg":28.5,"TS02_Avg":25.2,"TS06_Avg":21.1},
{"r":713,"s":23,"TS04_Avg":32.9,"TS02_Avg":26.0,"TS06_Avg":24.0},
{"r":714,"s":23,"TS04_Avg":35.5,"TS02_Avg":26.4,"TS06_Avg":23.2},
{"r":715,"s":23,"TS04_Avg":34.9,"TS02_Avg":27.0,"TS06_Avg":25.8},
{"r":716,"s":23,"TS04_Avg":32.9,"TS02_Avg":27.5,"TS06_Avg":27.0},
{"r":717,"s":23,"TS04_Avg":32.3,"TS02_Avg":28.2,"TS06_Avg":28.2},
{"r":718,"s":23,"TS04_Avg":30.8,"TS02_Avg":27.6,"TS06_Avg":27.3},
{"r":720,"s":23,"TS04_Avg":29.6,"TS02_Avg":26.9,"TS06_Avg":26.9},
{"r":721,"s":23,"TS04_Avg":28.7,"TS02_Avg":26.4,"TS06_Avg":26.5},
{"r":722,"s":23,"TS04_Avg":26.7,"TS02_Avg":25.5,"TS06_Avg":26.1},
{"r":723,"s":23,"TS04_Avg":25.4,"TS02_Avg":22.9,"TS06_Avg":22.9}
]},
"transform":[{"fold":["TS04_Avg","TS02_Avg","TS06_Avg"],"as":["k","v"]}],
"mark":{"type":"line","strokeWidth":2.5,"strokeJoin":"round","strokeCap":"butt"},
"encoding":{
"x":{"field":"r","type":"quantitative","scale":{"domain":[0,724],"nice":false,"zero":false},
"axis":{"title":null,"grid":false,"domain":false,"ticks":false,"labelAngle":-90,"labelFontSize":14.5,"labelFont":"Lato","labelColor":"black","labelPadding":8,"labelOverlap":false,"labelFlush":false,"labelBound":false,
"values":[0,9,18,27,36,63,81,90,117,135,162,180,189,207,225,234,252,261,279,297,306,324,333,342,351,369,378,396,405,414,423,432,441,450,459,468,477,486,495,513,522,531,540,549,558,567,576,585,594,603,612,621,630,639,648,666,675,693,702,711,720],
"labelExpr":"['2018-05-01 00:00:00','2018-05-01 09:00:00','2018-05-01 18:00:00','2018-05-02 03:00:00','2018-05-02 12:00:00','','','2018-05-03 15:00:00','','2018-05-04 09:00:00','2018-05-04 18:00:00','','','2018-05-05 21:00:00','','2018-05-06 15:00:00','','','2018-05-07 18:00:00','','2018-05-08 12:00:00','2018-05-08 21:00:00','','2018-05-09 15:00:00','','2018-05-10 09:00:00','2018-05-10 18:00:00','','2018-05-11 12:00:00','2018-05-11 21:00:00','','2018-05-12 15:00:00','','2018-05-13 10:00:00','2018-05-13 19:00:00','','2018-05-14 13:00:00','2018-05-14 22:00:00','2018-05-15 07:00:00','2018-05-15 16:00:00','','2018-05-16 10:00:00','2018-05-16 19:00:00','','2018-05-17 12:00:00','2018-05-17 21:00:00','2018-05-18 07:00:00','2018-05-18 16:00:00','2018-05-19 01:00:00','2018-05-19 10:00:00','2018-05-19 19:00:00','2018-05-20 04:00:00','2018-05-20 13:00:00','2018-05-20 22:00:00','2018-05-21 07:00:00','2018-05-21 16:00:00','','2018-05-22 10:00:00','2018-05-22 19:00:00','2018-05-23 11:00:00','2018-05-24 07:00:00','2018-05-24 16:00:00','2018-05-25 01:00:00','2018-05-25 10:00:00','2018-05-25 19:00:00','2018-05-26 04:00:00','2018-05-26 13:00:00','2018-05-26 22:00:00','2018-05-27 08:00:00','2018-05-27 17:00:00','2018-05-28 02:00:00','2018-05-28 11:00:00','2018-05-28 20:00:00','','2018-05-29 14:00:00','2018-05-29 23:00:00','','2018-05-30 17:00:00','2018-05-31 02:00:00','2018-05-31 11:00:00','2018-05-31 20:00:00'][round(datum.value/9)]"}},
"y":{"field":"v","type":"quantitative","scale":{"domain":[10,40],"nice":false,"zero":false},
"axis":{"title":null,"values":[10,15,20,25,30,35,40],"grid":true,"gridColor":"#868686","gridWidth":1.5,"domain":false,"ticks":false,"labelFontSize":20,"labelFont":"Lato","labelColor":"black","labelPadding":18}},
"color":{"field":"k","type":"nominal","scale":{"domain":["TS04_Avg","TS02_Avg","TS06_Avg"],"range":["#4A7EBB","#BE4B48","#98B954"]},
"legend":{"title":null,"orient":"none","legendX":362,"legendY":494,"direction":"horizontal","symbolType":"stroke","symbolSize":2500,"symbolStrokeWidth":2.5,"labelFontSize":20,"labelFont":"Lato","labelColor":"black","columnPadding":22,"labelOffset":6}},
"detail":{"field":"s","type":"nominal"}
}
}
